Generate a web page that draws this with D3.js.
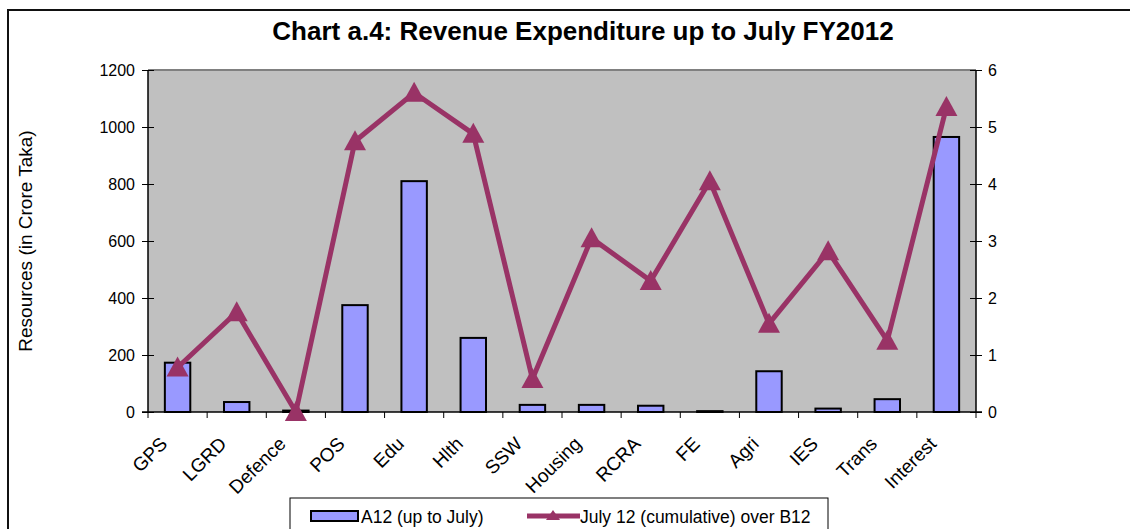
<!DOCTYPE html>
<html>
<head>
<meta charset="utf-8">
<script src="https://cdn.jsdelivr.net/npm/d3@7"></script>
<style>
  body { margin: 0; background: #fff; }
  svg { display: block; font-family: "Liberation Sans", Arial, sans-serif; }
</style>
</head>
<body>
<div id="chart"></div>
<script>
// data
const categories = ["GPS", "LGRD", "Defence", "POS", "Edu", "Hlth", "SSW", "Housing", "RCRA", "FE", "Agri", "IES", "Trans", "Interest"];
const a12 = [173, 35, 5, 375, 810, 260, 25, 25, 22, 3, 143, 12, 45, 965];
const julyOverB12 = [0.78, 1.75, 0, 4.75, 5.6, 4.88, 0.58, 3.05, 2.3, 4.05, 1.55, 2.82, 1.25, 5.35];
const leftTicks = [0, 200, 400, 600, 800, 1000, 1200];
const rightTicks = [0, 1, 2, 3, 4, 5, 6];

const W = 1130, H = 529;
const margin = { top: 70, right: 154, bottom: 117, left: 148 };
const width = W - margin.left - margin.right,
      height = H - margin.top - margin.bottom;

const svg = d3.select("#chart").append("svg")
    .attr("width", W)
    .attr("height", H);

// outer chart frame
svg.append("rect")
    .attr("x", 8).attr("y", 10)
    .attr("width", W + 10).attr("height", H + 10)
    .attr("fill", "none")
    .attr("stroke", "#111")
    .attr("stroke-width", 2);

// Title
svg.append("text")
    .attr("x", 583)
    .attr("y", 40)
    .attr("text-anchor", "middle")
    .style("font-size", "26px")
    .style("font-weight", "bold")
    .text("Chart a.4: Revenue Expenditure up to July FY2012");

const g = svg.append("g")
    .attr("transform", `translate(${margin.left},${margin.top})`);

const x = d3.scaleBand().domain(categories).range([0, width]).paddingInner(0.57).paddingOuter(0.285);
const xb = d3.scaleBand().domain(categories).range([0, width]);
const yL = d3.scaleLinear().domain([0, 1200]).range([height, 0]);
const yR = d3.scaleLinear().domain([0, 6]).range([height, 0]);

// plot area
g.append("rect")
    .attr("width", width).attr("height", height)
    .attr("fill", "#C0C0C0");
g.append("line")
    .attr("x1", 0).attr("x2", width)
    .attr("y1", 0).attr("y2", 0)
    .attr("stroke", "#808080").attr("stroke-width", 2);

// bars
g.selectAll(".bar")
    .data(a12)
    .join("rect")
    .attr("class", "bar")
    .attr("x", (d, i) => x(categories[i]))
    .attr("y", d => yL(d))
    .attr("width", x.bandwidth())
    .attr("height", d => height - yL(d))
    .attr("fill", "#9999FF")
    .attr("stroke", "#000")
    .attr("stroke-width", 2);

// left axis
const axL = g.append("g")
    .call(d3.axisLeft(yL).tickValues(leftTicks).tickFormat(d3.format("d")).tickSize(6).tickPadding(7));
// right axis
const axR = g.append("g")
    .attr("transform", `translate(${width},0)`)
    .call(d3.axisRight(yR).tickValues(rightTicks).tickFormat(d3.format("d")).tickSize(6).tickPadding(6));
[axL, axR].forEach(a => {
    a.select(".domain").attr("stroke", "#000").attr("stroke-width", 1.5)
        .attr("d", `M0,0V${height}`);
    a.selectAll(".tick line").attr("stroke", "#000").attr("x1", -6).attr("x2", 6);
    a.selectAll(".tick text").style("font-size", "16px").attr("fill", "#000");
});

// bottom axis with ticks between categories
const xa = g.append("g").attr("transform", `translate(0,${height})`);
xa.append("line")
    .attr("x1", -6).attr("x2", width + 6)
    .attr("stroke", "#000").attr("stroke-width", 1.5);
xa.selectAll(".xtick")
    .data(categories.concat(["end"]))
    .join("line")
    .attr("x1", (d, i) => i * xb.step())
    .attr("x2", (d, i) => i * xb.step())
    .attr("y1", 0).attr("y2", 6)
    .attr("stroke", "#000");
xa.selectAll(".xlabel")
    .data(categories)
    .join("text")
    .attr("text-anchor", "end")
    .attr("transform", d => `translate(${xb(d) + xb.bandwidth() / 2 - 9},${33}) rotate(-45)`)
    .style("font-size", "19px")
    .text(d => d);

// line series
const line = d3.line()
    .x((d, i) => xb(categories[i]) + xb.bandwidth() / 2)
    .y(d => yR(d));
g.append("path")
    .datum(julyOverB12)
    .attr("d", line)
    .attr("fill", "none")
    .attr("stroke", "#993366")
    .attr("stroke-width", 5)
    .attr("stroke-linejoin", "miter");
g.selectAll(".marker")
    .data(julyOverB12)
    .join("path")
    .attr("d", "M0,-11L11,9L-11,9Z")
    .attr("transform", (d, i) => `translate(${xb(categories[i]) + xb.bandwidth() / 2},${yR(d)})`)
    .attr("fill", "#993366");

// y title
svg.append("text")
    .attr("transform", `translate(32,${margin.top + height / 2}) rotate(-90)`)
    .attr("text-anchor", "middle")
    .style("font-size", "19px")
    .text("Resources (in Crore Taka)");

// legend
const lg = svg.append("g").attr("transform", "translate(290,498)");
lg.append("rect")
    .attr("width", 538).attr("height", 40)
    .attr("fill", "#fff").attr("stroke", "#000").attr("stroke-width", 1);
lg.append("rect")
    .attr("x", 21).attr("y", 13).attr("width", 47).attr("height", 10)
    .attr("fill", "#9999FF").attr("stroke", "#000").attr("stroke-width", 2);
lg.append("text")
    .attr("x", 71).attr("y", 25)
    .style("font-size", "17.5px")
    .text("A12 (up to July)");
lg.append("line")
    .attr("x1", 237).attr("x2", 290).attr("y1", 18).attr("y2", 18)
    .attr("stroke", "#993366").attr("stroke-width", 5);
lg.append("path")
    .attr("d", "M0,-6L7,4L-7,4Z")
    .attr("transform", "translate(263,18)")
    .attr("fill", "#993366");
lg.append("text")
    .attr("x", 290).attr("y", 25)
    .style("font-size", "17.5px")
    .text("July 12 (cumulative) over B12");
</script>
</body>
</html>
